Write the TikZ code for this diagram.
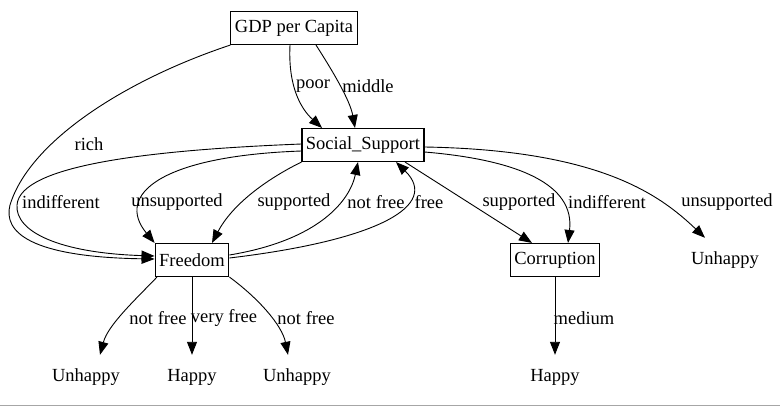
\documentclass[tikz,border=0pt]{standalone}
\usepackage{fontspec}
\setmainfont{Liberation Serif}
\usetikzlibrary{arrows.meta}
\begin{document}
\begin{tikzpicture}[x=1pt, y=1pt, font=\fontsize{18.5}{20}\selectfont,
    box/.style={draw, line width=1.1pt, inner xsep=4pt, minimum height=33pt},
    leaf/.style={inner sep=0pt, minimum width=80pt, minimum height=44pt},
    lbl/.style={inner sep=0pt},
    link/.style={-{Triangle[length=13pt, width=10pt]}, line width=0.9pt}]
    \useasboundingbox (0,0) rectangle (780,-407);
    \draw[gray!70, line width=1.5pt] (0,-405.5) -- (780,-405.5);

    \draw (294,-28) node[box] (gdp) {GDP per Capita};
    \draw (363,-145) node[box] (soc) {Social\_Support};
    \draw (192,-260) node[box] (fr) {Freedom};
    \draw (555,-260) node[box] (cor) {Corruption};
    \draw (725,-260) node[leaf] (u3) {Unhappy};
    \draw (86,-377) node[leaf] (u1) {Unhappy};
    \draw (192,-377) node[leaf] (h1) {Happy};
    \draw (297,-377) node[leaf] (u2) {Unhappy};
    \draw (555,-377) node[leaf] (h2) {Happy};

    % GDP per Capita
    \draw[link] (gdp.south west) .. controls (128,-79) and (30,-140) .. (10,-205)
        .. controls (3,-232) and (30,-257) .. ([yshift=1pt]fr.west) node[lbl] at (89,-144) {rich};
    \draw[link] ([xshift=-4pt]gdp.south) .. controls (288,-85) and (300,-108) .. ([xshift=-41pt]soc.north) node[lbl] at (313,-86) {poor};
    \draw[link] ([xshift=22pt]gdp.south) .. controls (332,-70) and (350,-100) .. ([xshift=-8pt]soc.north) node[lbl] at (368,-86) {middle};

    % Social_Support
    \draw[link] ([yshift=1pt]soc.west) .. controls (150,-150) and (20,-165) .. (17,-205)
        .. controls (15,-232) and (60,-253) .. ([yshift=4pt]fr.west) node[lbl] at (61,-202) {indifferent};
    \draw[link] ([yshift=-6pt]soc.west) .. controls (160,-156) and (115,-195) .. (fr.north west) node[lbl] at (177,-202) {unsupported};
    \draw[link] (soc.south west) .. controls (265,-180) and (232,-205) .. ([xshift=20pt]fr.north) node[lbl] at (294,-202) {supported};
    \draw[link] ([xshift=42pt]soc.south) -- ([xshift=-23pt]cor.north) node[lbl] at (519,-202) {supported};
    \draw[link] ([yshift=-7pt]soc.east) .. controls (520,-160) and (575,-185) .. ([xshift=13pt]cor.north) node[lbl] at (607,-202) {indifferent};
    \draw[link] ([yshift=-2pt]soc.east) .. controls (600,-150) and (660,-195) .. ([xshift=-20pt]u3.north) node[lbl] at (727,-202) {unsupported};

    % Freedom
    \draw[link] ([yshift=5pt]fr.east) .. controls (320,-240) and (350,-200) .. ([xshift=-5pt]soc.south) node[lbl] at (376,-202) {not free};
    \draw[link] ([yshift=2pt]fr.east) .. controls (380,-240) and (440,-205) .. ([xshift=33pt]soc.south) node[lbl] at (429,-202) {free};
    \draw[link] ([xshift=-35pt]fr.south) .. controls (135,-300) and (108,-325) .. ([xshift=14pt]u1.north) node[lbl] at (158,-318) {not free};
    \draw[link] (fr.south) -- (h1.north) node[lbl] at (224,-318) {very free};
    \draw[link] (fr.south east) .. controls (258,-298) and (282,-325) .. ([xshift=-9pt]u2.north) node[lbl] at (306,-318) {not free};

    % Corruption
    \draw[link] (cor.south) -- (h2.north) node[lbl] at (584,-318) {medium};
\end{tikzpicture}
\end{document}
